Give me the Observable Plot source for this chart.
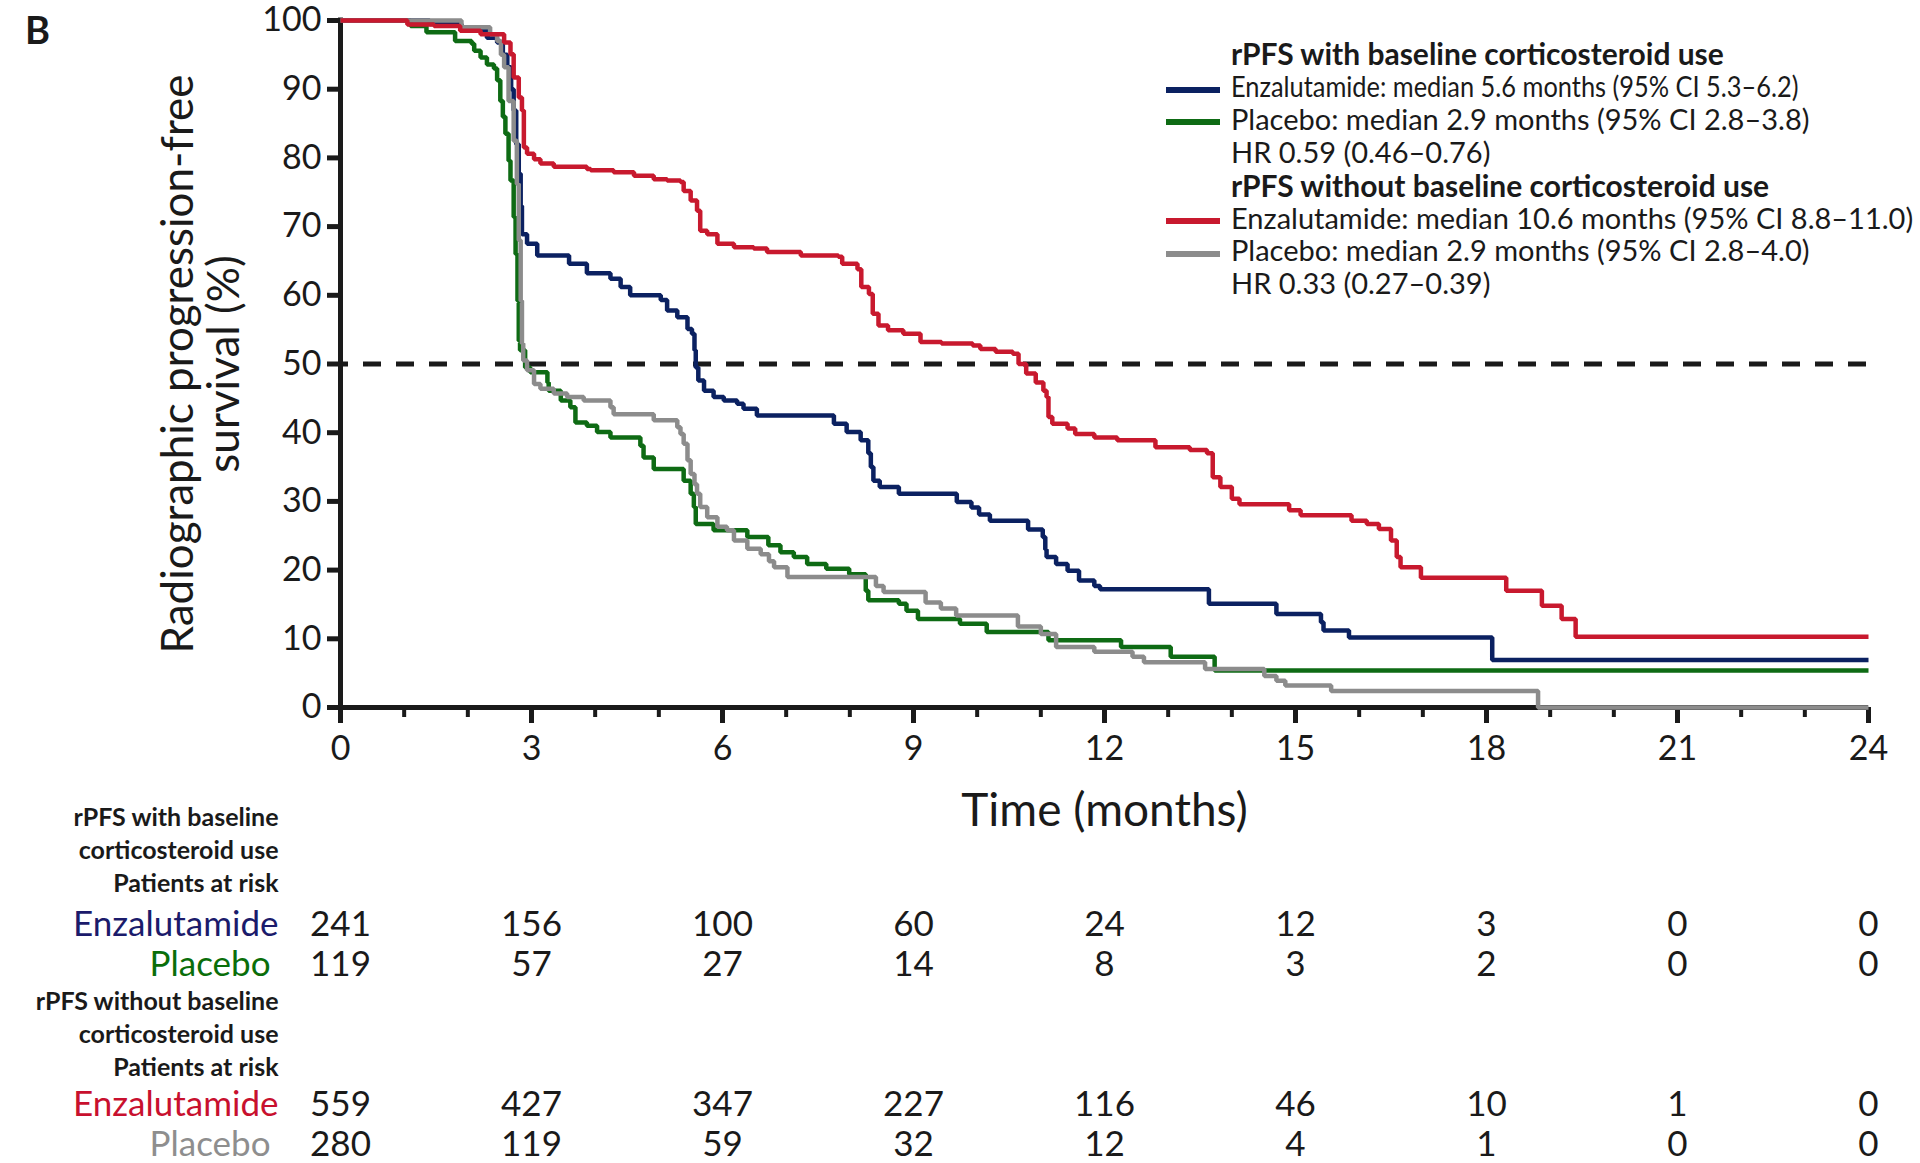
<!DOCTYPE html>
<html><head><meta charset="utf-8">
<script src="https://cdn.jsdelivr.net/npm/d3@7"></script>
<script src="https://cdn.jsdelivr.net/npm/@observablehq/plot@0.6"></script>
<style>
body{margin:0;background:#fff;}
#wrap{position:relative;width:1920px;height:1163px;font-family:Lato,sans-serif;color:#1a1a1a;overflow:hidden;}
#wrap svg{display:block;}
#panel{position:absolute;left:25px;top:10px;font-weight:700;font-size:38px;line-height:1;}
#legend{position:absolute;left:1166px;top:37px;font-size:29px;line-height:32.9px;white-space:nowrap;}
#legend .h{font-weight:700;font-size:30px;padding-left:65px;}
#legend .p{padding-left:65px;}
#legend .sw{display:inline-block;width:54px;height:6px;margin-right:11px;vertical-align:middle;}
#legend .cond{display:inline-block;transform:scaleX(0.875);transform-origin:left center;}
</style></head>
<body><div id="wrap"></div>
<script>
// ---- data ----
const xTicks = [0, 3, 6, 9, 12, 15, 18, 21, 24];
const xMinorTicks = d3.range(0, 25, 1);
const yTicks = [0, 10, 20, 30, 40, 50, 60, 70, 80, 90, 100];
const medianLine = [50];

const enzWithT = [0, 1.4, 1.9, 2.3, 2.46, 2.55, 2.62, 2.68, 2.72, 2.76, 2.80, 2.83, 2.85, 2.93, 3.09, 3.59, 3.87, 4.24, 4.40, 4.55, 5.03, 5.13, 5.29, 5.45, 5.52, 5.56, 5.58, 5.62, 5.71, 5.86, 6.02, 6.23, 6.33, 6.54, 7.75, 7.95, 8.17, 8.29, 8.33, 8.37, 8.47, 8.77, 9.68, 9.91, 10.03, 10.2, 10.8, 11.03, 11.07, 11.09, 11.24, 11.42, 11.6, 11.84, 11.93, 13.64, 14.7, 15.40, 15.44, 15.84, 18.09, 24];
const enzWithS = [100, 99.5, 98.6, 97.5, 96.8, 95.0, 93.2, 90.0, 86.9, 82.0, 77.7, 73.0, 68.9, 67.5, 65.8, 64.6, 63.2, 62.4, 61.2, 60.0, 59.3, 57.8, 56.8, 55.1, 54.4, 52.0, 49.5, 47.6, 46.1, 45.2, 44.7, 44.2, 43.5, 42.5, 41.3, 40.1, 38.9, 37.0, 35.0, 33.0, 32.1, 31.1, 29.9, 29.1, 28.1, 27.2, 25.9, 24.8, 23.0, 21.9, 20.9, 19.9, 18.5, 17.7, 17.2, 15.1, 13.6, 12.4, 11.2, 10.2, 6.9, 6.9];

const placWithT = [0, 1.1, 1.35, 1.8, 2.06, 2.1, 2.2, 2.3, 2.41, 2.46, 2.51, 2.55, 2.59, 2.64, 2.67, 2.72, 2.75, 2.78, 2.80, 2.82, 2.9, 2.98, 3.25, 3.27, 3.46, 3.61, 3.69, 3.87, 4.03, 4.24, 4.71, 4.76, 4.92, 5.39, 5.50, 5.55, 5.58, 5.86, 6.39, 6.72, 6.91, 7.12, 7.33, 7.63, 7.99, 8.25, 8.29, 8.77, 8.89, 9.07, 9.73, 10.15, 11.12, 12.26, 13.04, 13.73, 24];
const placWithS = [100, 99.2, 98.3, 97.0, 96.6, 95.6, 94.6, 93.6, 93.0, 91.3, 88.3, 86.0, 83.5, 79.6, 76.7, 71.4, 66.0, 59.2, 53.4, 52.0, 49.5, 48.8, 47.3, 46.1, 44.7, 43.7, 41.5, 41.0, 40.1, 39.3, 38.1, 36.4, 34.7, 33.0, 31.1, 29.2, 26.7, 25.8, 24.8, 23.6, 22.6, 21.9, 20.9, 20.2, 19.4, 17.0, 15.6, 15.1, 14.1, 12.9, 12.2, 11.0, 9.8, 8.8, 7.4, 5.4, 5.4];

const enzWithoutT = [0, 1.05, 1.47, 1.88, 2.2, 2.57, 2.67, 2.72, 2.80, 2.85, 2.88, 2.93, 3.04, 3.14, 3.35, 3.87, 3.93, 4.29, 4.61, 4.92, 5.13, 5.34, 5.39, 5.50, 5.60, 5.65, 5.76, 5.92, 6.18, 6.49, 6.70, 7.23, 7.82, 7.88, 8.12, 8.18, 8.30, 8.36, 8.45, 8.60, 8.84, 9.11, 9.44, 9.93, 10.05, 10.29, 10.56, 10.65, 10.77, 10.92, 11.04, 11.09, 11.12, 11.18, 11.42, 11.54, 11.84, 12.2, 12.8, 13.34, 13.61, 13.70, 13.82, 14.0, 14.12, 14.90, 15.08, 15.88, 16.12, 16.31, 16.5, 16.59, 16.65, 16.97, 18.31, 18.87, 19.18, 19.40, 24];
const enzWithoutS = [100, 99.4, 99.2, 98.5, 98.0, 96.8, 95.1, 91.7, 88.8, 86.9, 81.5, 80.6, 79.8, 79.2, 78.7, 78.4, 78.2, 77.9, 77.4, 76.9, 76.7, 76.5, 75.2, 73.8, 72.3, 69.4, 68.9, 67.5, 67.0, 66.8, 66.3, 65.8, 65.6, 64.6, 63.8, 61.2, 60.2, 57.3, 55.6, 54.9, 54.4, 53.2, 53.0, 52.7, 52.2, 51.8, 51.5, 50.0, 48.6, 47.3, 46.1, 45.2, 42.3, 41.3, 40.6, 39.8, 39.3, 38.9, 37.9, 37.5, 37.0, 33.5, 32.1, 30.4, 29.6, 28.7, 28.0, 27.2, 26.7, 26.0, 24.3, 21.9, 20.4, 18.9, 17.0, 14.8, 12.9, 10.3, 10.3];

const placWithoutT = [0, 1.9, 2.35, 2.46, 2.52, 2.57, 2.64, 2.72, 2.77, 2.80, 2.83, 2.85, 2.87, 2.93, 3.04, 3.14, 3.35, 3.56, 3.82, 4.24, 4.29, 4.92, 5.29, 5.34, 5.39, 5.45, 5.50, 5.56, 5.60, 5.65, 5.76, 5.92, 6.07, 6.18, 6.39, 6.6, 6.73, 6.81, 7.02, 8.41, 8.53, 9.19, 9.43, 9.67, 10.64, 11.0, 11.24, 11.84, 12.44, 12.62, 13.58, 14.51, 14.7, 14.84, 15.56, 18.81, 24];
const placWithoutS = [100, 99.0, 98.0, 97.0, 95.0, 93.2, 88.3, 82.5, 76.2, 68.0, 59.2, 53.0, 50.5, 49.1, 47.1, 46.4, 45.7, 45.2, 44.7, 43.7, 42.7, 41.8, 40.8, 39.8, 38.4, 36.0, 34.0, 32.5, 31.1, 29.2, 27.7, 26.3, 25.8, 24.3, 23.1, 22.3, 21.3, 20.4, 19.0, 17.7, 16.8, 15.3, 14.4, 13.4, 11.8, 10.7, 8.8, 8.1, 7.4, 6.6, 5.6, 4.6, 3.9, 3.2, 2.4, 0, 0];

const riskTimes = [0, 3, 6, 9, 12, 15, 18, 21, 24];
const enzWithRisk = [241, 156, 100, 60, 24, 12, 3, 0, 0];
const placWithRisk = [119, 57, 27, 14, 8, 3, 2, 0, 0];
const enzWithoutRisk = [559, 427, 347, 227, 116, 46, 10, 1, 0];
const placWithoutRisk = [280, 119, 59, 32, 12, 4, 1, 0, 0];

const withHeader = "rPFS with baseline\ncorticosteroid use\nPatients at risk";
const withoutHeader = "rPFS without baseline\ncorticosteroid use\nPatients at risk";
const armNames = ["Enzalutamide", "Placebo"];

const legendTitles = ["rPFS with baseline corticosteroid use", "rPFS without baseline corticosteroid use"];
const legendWith = ["Enzalutamide: median 5.6 months (95% CI 5.3\u20136.2)", "Placebo: median 2.9 months (95% CI 2.8\u20133.8)", "HR 0.59 (0.46\u20130.76)"];
const legendWithout = ["Enzalutamide: median 10.6 months (95% CI 8.8\u201311.0)", "Placebo: median 2.9 months (95% CI 2.8\u20134.0)", "HR 0.33 (0.27\u20130.39)"];

const yTitle = "Radiographic progression-free\nsurvival (%)";
const xTitle = "Time (months)";
const panelLetter = "B";

// ---- styles ----
const ink = "#1a1a1a";
const cEnzWith = "#0b2161", cPlacWith = "#0e6b14", cEnzWithout = "#c8192e", cPlacWithout = "#8c8c8c";
const cLabEnzWith = "#1b1b6b", cLabPlacWith = "#0a6e0a", cLabEnzWithout = "#c8102e", cLabPlacWithout = "#8e8e8e";

const toRows = (T, S) => T.map((t, i) => ({t, s: S[i]}));
const km = (T, S, stroke) => Plot.line(toRows(T, S), {x: "t", y: "s", curve: "step-after", stroke, strokeWidth: 4.5, strokeLinejoin: "miter", strokeLinecap: "butt"});

const wrap = document.getElementById("wrap");

const main = Plot.plot({
  width: 1920, height: 790,
  marginLeft: 340, marginRight: 52, marginTop: 20, marginBottom: 83,
  x: {domain: [0, 24]},
  y: {domain: [0, 100]},
  style: {fontFamily: "Lato, sans-serif", color: ink, background: "transparent", overflow: "visible"},
  marks: [
    Plot.axisX(xMinorTicks, {tickSize: 10, strokeWidth: 4, fill: null, label: null, stroke: ink}),
    Plot.axisX(xTicks, {tickSize: 16, tickPadding: 12, strokeWidth: 5, fontSize: 34, label: null, stroke: ink, fill: ink}),
    Plot.axisY(yTicks, {tickSize: 13, tickPadding: 6, strokeWidth: 5, fontSize: 34, label: null, stroke: ink, fill: ink}),
    Plot.ruleY([0], {strokeWidth: 5, stroke: ink}),
    Plot.ruleX([0], {strokeWidth: 5, stroke: ink, strokeLinecap: "square"}),
    Plot.ruleY(medianLine, {strokeWidth: 5, stroke: ink, strokeDasharray: "18,15", strokeDashoffset: 10}),
    km(placWithT, placWithS, cPlacWith),
    km(enzWithT, enzWithS, cEnzWith),
    km(placWithoutT, placWithoutS, cPlacWithout),
    km(enzWithoutT, enzWithoutS, cEnzWithout),
    Plot.text([yTitle], {text: d => d, frameAnchor: "left", dx: -139, rotate: -90, textAnchor: "middle", lineAnchor: "middle", fontSize: 44, lineHeight: 1.05, fill: ink}),
    Plot.text([xTitle], {text: d => d, frameAnchor: "bottom", dy: 104, textAnchor: "middle", lineAnchor: "middle", fontSize: 46, fill: ink})
  ]
});
wrap.appendChild(main);

// ---- risk table ----
// the table is laid out on a grid of 30 evenly spaced row slots
const slotCount = 30;
const rowSlot = {h1: 0, e1: 7, p1: 11, h2: 18, e2: 25, p2: 29};
const enzLabels = [{row: rowSlot.e1, label: armNames[0], c: cLabEnzWith}, {row: rowSlot.e2, label: armNames[0], c: cLabEnzWithout}];
const placLabels = [{row: rowSlot.p1, label: armNames[1], c: cLabPlacWith}, {row: rowSlot.p2, label: armNames[1], c: cLabPlacWithout}];
const riskRow = (arr, row) => riskTimes.map((t, i) => ({t, row, n: String(arr[i])}));
const riskData = [
  ...riskRow(enzWithRisk, rowSlot.e1), ...riskRow(placWithRisk, rowSlot.p1),
  ...riskRow(enzWithoutRisk, rowSlot.e2), ...riskRow(placWithoutRisk, rowSlot.p2)
];
const headerOpts = {x: () => 0, y: "row", text: "label", dx: -62, textAnchor: "end", lineAnchor: "middle", lineHeight: 1.32, fontWeight: "bold", fontSize: 25, fill: ink};

const risk = Plot.plot({
  width: 1920, height: 373,
  marginLeft: 340, marginRight: 52, marginTop: 57, marginBottom: 12,
  x: {domain: [0, 24], axis: null},
  y: {type: "point", domain: d3.range(slotCount), axis: null, padding: 0},
  color: {type: "identity"},
  style: {fontFamily: "Lato, sans-serif", color: ink, background: "transparent", overflow: "visible"},
  marks: [
    Plot.text([{row: rowSlot.h1, label: withHeader}], {...headerOpts, dy: -6}),
    Plot.text([{row: rowSlot.h2, label: withoutHeader}], {...headerOpts, dy: -2}),
    Plot.text(enzLabels, {x: () => 0, y: "row", text: "label", dx: -62, textAnchor: "end", fontSize: 35, fill: "c"}),
    Plot.text(placLabels, {x: () => 0, y: "row", text: "label", dx: -70, textAnchor: "end", fontSize: 35, fill: "c"}),
    Plot.text(riskData, {x: "t", y: "row", text: "n", fontSize: 35, fill: ink})
  ]
});
wrap.appendChild(risk);

// ---- panel letter & legend ----
const panel = document.createElement("div");
panel.id = "panel"; panel.textContent = panelLetter;
wrap.appendChild(panel);

const legend = document.createElement("div");
legend.id = "legend";
const groups = [
  {title: legendTitles[0], items: legendWith, colors: [cEnzWith, cPlacWith, null], cond: [true, false, false]},
  {title: legendTitles[1], items: legendWithout, colors: [cEnzWithout, cPlacWithout, null], cond: [false, false, false]}
];
for (const g of groups) {
  const h = document.createElement("div"); h.className = "h"; h.textContent = g.title; legend.appendChild(h);
  g.items.forEach((txt, i) => {
    const r = document.createElement("div");
    if (g.colors[i]) {
      const sw = document.createElement("span"); sw.className = "sw"; sw.style.background = g.colors[i];
      r.appendChild(sw);
    } else r.className = "p";
    const t = document.createElement("span");
    if (g.cond[i]) t.className = "cond";
    t.textContent = txt;
    r.appendChild(t);
    legend.appendChild(r);
  });
}
wrap.appendChild(legend);
</script>
</body></html>
